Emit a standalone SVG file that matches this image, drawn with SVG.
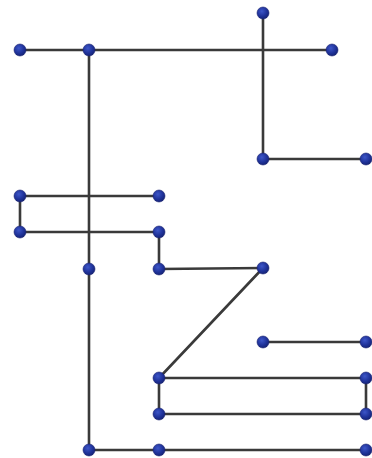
<svg xmlns="http://www.w3.org/2000/svg" width="372" height="458" viewBox="0 0 372 458">
<style>
.e{stroke:#3a3a3a;stroke-width:2.6;fill:none;stroke-linecap:round}
.n{fill:url(#g);stroke:#1a2270;stroke-width:0.6}
</style>
<defs>
<radialGradient id="g" cx="0.4" cy="0.35" r="0.7">
<stop offset="0" stop-color="#3d56c8"/>
<stop offset="0.6" stop-color="#1f3299"/>
<stop offset="1" stop-color="#142270"/>
</radialGradient>
</defs>
<rect width="372" height="458" fill="#ffffff"/>
<g id="connectors">
<line class="e" x1="20" y1="50" x2="332" y2="50"/>
<line class="e" x1="263" y1="13" x2="263" y2="159"/>
<line class="e" x1="263" y1="159" x2="366" y2="159"/>
<line class="e" x1="89" y1="50" x2="89" y2="450"/>
<line class="e" x1="20" y1="196" x2="159" y2="196"/>
<line class="e" x1="20" y1="196" x2="20" y2="232"/>
<line class="e" x1="20" y1="232" x2="159" y2="232"/>
<line class="e" x1="159" y1="232" x2="159" y2="269"/>
<line class="e" x1="159" y1="269" x2="263" y2="268"/>
<line class="e" x1="263" y1="268" x2="159" y2="378"/>
<line class="e" x1="263" y1="342" x2="366" y2="342"/>
<line class="e" x1="159" y1="378" x2="366" y2="378"/>
<line class="e" x1="159" y1="414" x2="366" y2="414"/>
<line class="e" x1="159" y1="378" x2="159" y2="414"/>
<line class="e" x1="366" y1="378" x2="366" y2="414"/>
<line class="e" x1="89" y1="450" x2="366" y2="450"/>
</g>
<g id="n1"><circle class="n" cx="20" cy="50" r="6"/></g>
<g id="n2"><circle class="n" cx="89" cy="50" r="6"/></g>
<g id="n3"><circle class="n" cx="263" cy="13" r="6"/></g>
<g id="n4"><circle class="n" cx="332" cy="50" r="6"/></g>
<g id="n5"><circle class="n" cx="263" cy="159" r="6"/></g>
<g id="n6"><circle class="n" cx="366" cy="159" r="6"/></g>
<g id="n7"><circle class="n" cx="20" cy="196" r="6"/></g>
<g id="n8"><circle class="n" cx="159" cy="196" r="6"/></g>
<g id="n9"><circle class="n" cx="20" cy="232" r="6"/></g>
<g id="n10"><circle class="n" cx="159" cy="232" r="6"/></g>
<g id="n11"><circle class="n" cx="89" cy="269" r="6"/></g>
<g id="n12"><circle class="n" cx="159" cy="269" r="6"/></g>
<g id="n13"><circle class="n" cx="263" cy="268" r="6"/></g>
<g id="n14"><circle class="n" cx="263" cy="342" r="6"/></g>
<g id="n15"><circle class="n" cx="366" cy="342" r="6"/></g>
<g id="n16"><circle class="n" cx="159" cy="378" r="6"/></g>
<g id="n17"><circle class="n" cx="366" cy="378" r="6"/></g>
<g id="n18"><circle class="n" cx="159" cy="414" r="6"/></g>
<g id="n19"><circle class="n" cx="366" cy="414" r="6"/></g>
<g id="n20"><circle class="n" cx="89" cy="450" r="6"/></g>
<g id="n21"><circle class="n" cx="159" cy="450" r="6"/></g>
<g id="n22"><circle class="n" cx="366" cy="450" r="6"/></g>
</svg>
